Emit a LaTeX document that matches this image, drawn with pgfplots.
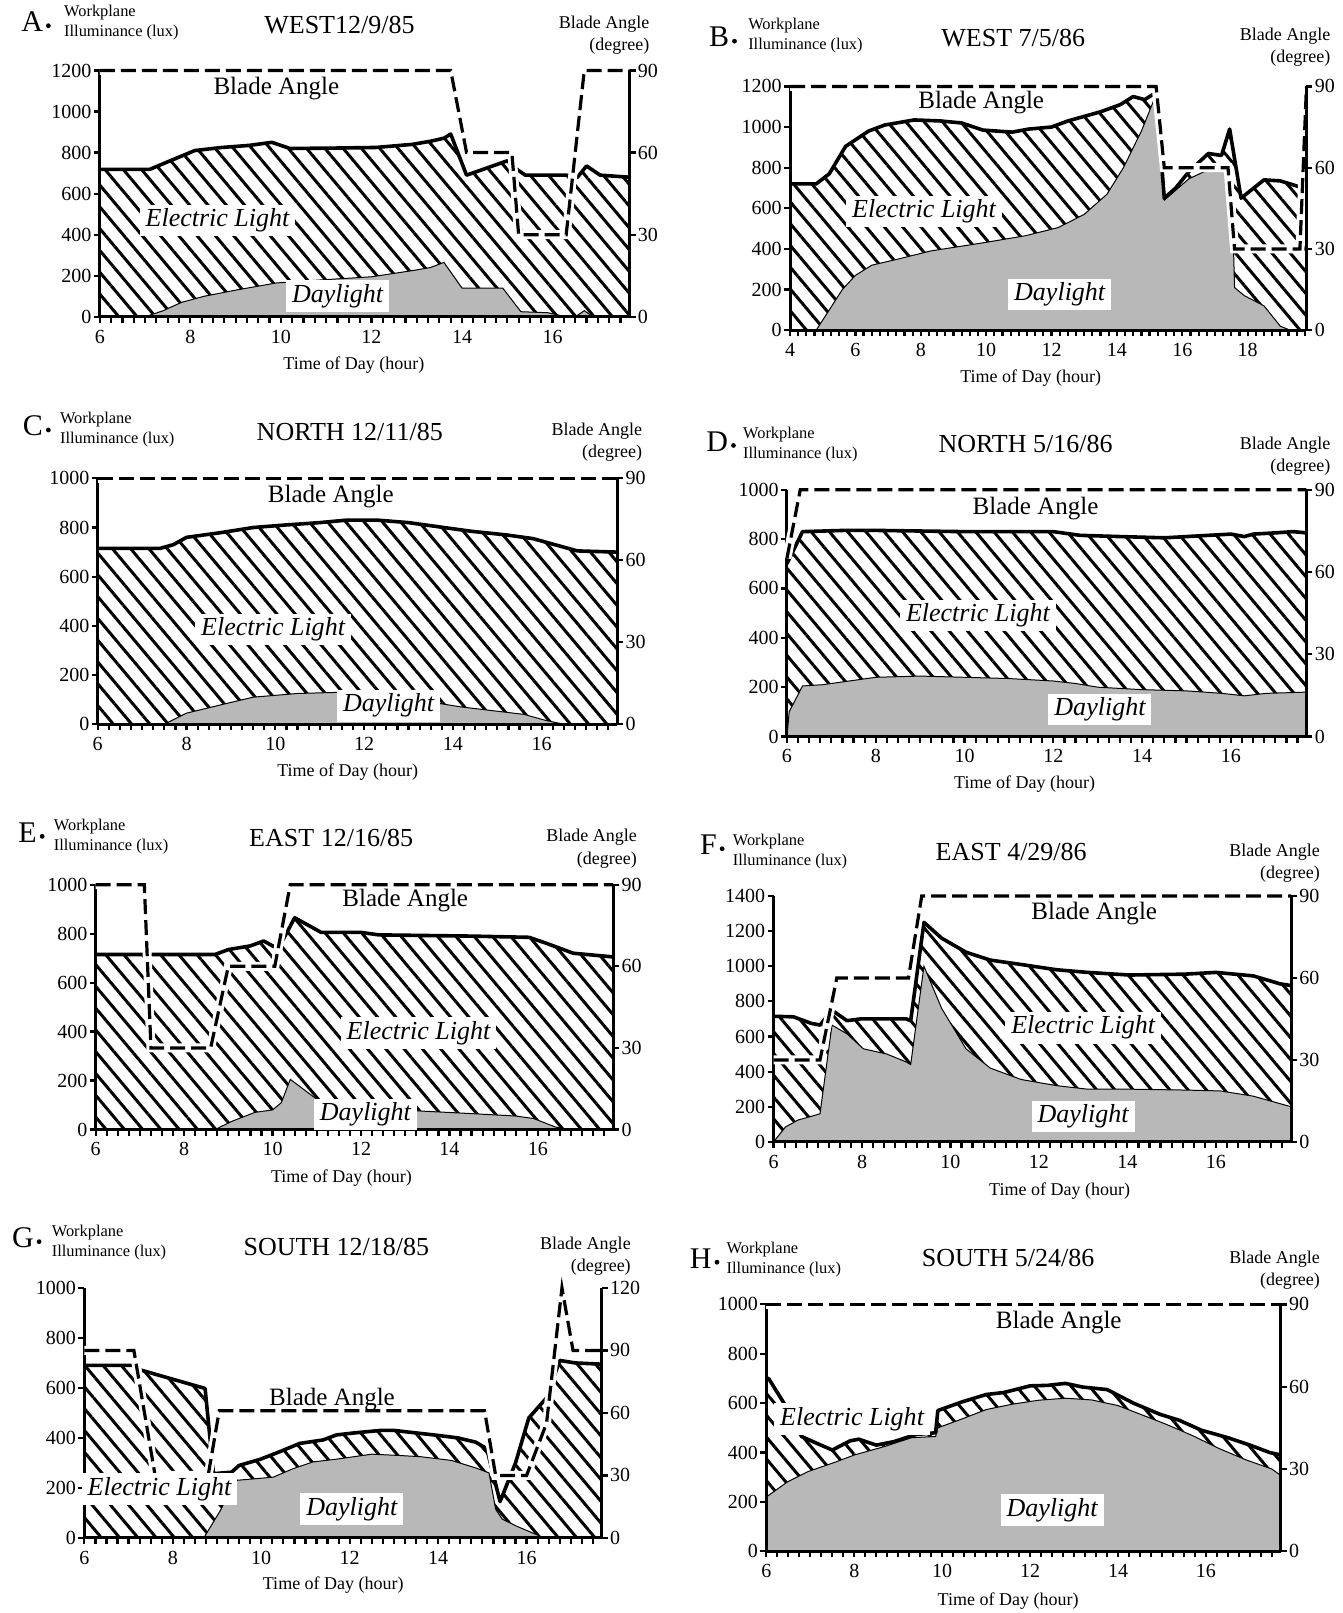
\documentclass[border=0pt]{standalone}
\usepackage{fontspec}
\setmainfont{Liberation Serif}
\usepackage{pgfplots}
\usepackage{pgfplotstable}
\pgfplotsset{compat=1.18}
\usetikzlibrary{patterns.meta}

% ---------------- data: A WEST 12/9/85 ----------------
\pgfplotstableread{
x y
6 718
7.1 718
7.5 755
8.1 810
8.7 825
9.3 835
9.8 850
10.2 820
11.2 822
12.1 825
12.9 840
13.3 855
13.6 870
13.75 890
14.1 690
15.0 760
15.2 720
15.4 690
16.3 690
16.55 680
16.75 735
17.05 690
17.7 680
}\Atot
\pgfplotstableread{
x y
6 0
7.0 0
7.4 30
7.8 70
8.3 100
9.0 130
9.9 165
10.9 180
12.0 195
12.9 225
13.3 240
13.6 265
14.0 140
14.9 140
15.3 25
15.9 20
16.3 0
16.5 0
16.7 30
16.9 0
17.7 0
}\Aday
\pgfplotstableread{
x y
6 90
13.75 90
14.1 60
15.1 60
15.25 30
16.3 30
16.7 90
17.7 90
}\Ablade
% ---------------- B WEST 7/5/86 ----------------
\pgfplotstableread{
x y
4 720
4.8 720
5.2 770
5.7 905
6.4 980
6.9 1010
7.8 1035
8.6 1030
9.25 1020
9.9 985
10.8 975
11.3 990
12 1000
12.5 1030
13.5 1075
14.1 1110
14.5 1150
14.85 1135
15.2 1170
15.45 650
15.8 700
16.2 780
16.8 870
17.2 860
17.45 990
17.8 650
18.5 740
19.0 735
19.6 705
19.8 700
}\Btot
\pgfplotstableread{
x y
4 0
4.8 0
5.2 100
5.6 200
6.0 270
6.5 320
7.3 350
8.3 390
9.9 430
11.2 465
12.2 505
13 570
13.7 670
14.2 800
14.75 980
15.2 1160
15.45 640
16.2 745
16.8 790
17.3 815
17.5 815
17.6 210
17.9 170
18.5 120
19.0 20
19.3 0
19.8 0
}\Bday
\pgfplotstableread{
x y
4 90
15.2 90
15.45 60
17.4 60
17.6 30
19.6 30
19.8 90
}\Bblade
% ---------------- C NORTH 12/11/85 ----------------
\pgfplotstableread{
x y
6 715
7.4 715
7.7 730
8.0 760
8.8 780
9.5 800
10.2 810
11 820
11.6 830
12.3 830
13 820
13.8 800
14.4 785
15.2 770
15.8 755
16.4 725
16.8 705
17.7 700
}\Ctot
\pgfplotstableread{
x y
6 0
7.5 0
8.0 45
8.8 80
9.5 110
10.5 125
11.5 130
12.5 120
13.5 90
14.2 70
14.9 55
15.6 40
16.1 15
16.5 0
17.7 0
}\Cday
\pgfplotstableread{
x y
6 90
17.7 90
}\Cblade
% ---------------- D NORTH 5/16/86 ----------------
\pgfplotstableread{
x y
6 700
6.35 830
7.3 835
8 835
10 830
12 830
12.6 815
13.5 810
14.5 805
15 810
16 820
16.3 810
16.5 820
17 825
17.4 830
17.7 825
}\Dtot
\pgfplotstableread{
x y
6 0
6.05 100
6.35 205
6.8 210
7.4 225
8 240
9 245
10 240
11 235
12 225
12.5 215
13 200
14 190
15 185
15.8 175
16.3 165
16.8 175
17.7 180
}\Dday
\pgfplotstableread{
x y
6 65
6.3 90
17.7 90
}\Dblade
% ---------------- E EAST 12/16/85 ----------------
\pgfplotstableread{
x y
6 715
8.7 715
9.0 735
9.5 750
9.8 770
10.1 740
10.25 780
10.5 865
11.1 805
12 805
12.4 795
14.5 790
15.8 785
16.2 760
16.8 720
17.7 705
}\Etot
\pgfplotstableread{
x y
6 0
8.7 0
9.1 35
9.6 70
10.0 80
10.2 110
10.4 205
11.1 110
11.5 100
12.5 85
13.4 75
14.5 65
15.5 55
15.9 45
16.4 10
16.7 0
17.7 0
}\Eday
\pgfplotstableread{
x y
6 90
7.1 90
7.25 30
8.6 30
9.0 60
10.05 60
10.4 90
17.7 90
}\Eblade
% ---------------- F EAST 4/29/86 ----------------
\pgfplotstableread{
x y
6 715
6.45 712
6.85 675
7.05 665
7.32 750
7.66 690
7.96 700
9.0 700
9.1 690
9.4 1250
9.8 1160
10.35 1080
10.9 1035
11.6 1010
12.4 980
13.1 965
14.05 950
15.3 955
16.0 965
16.85 945
17.45 900
17.7 890
}\Ftot
\pgfplotstableread{
x y
6 0
6.27 85
6.56 125
6.85 145
7.05 160
7.32 665
7.66 615
8.03 530
8.56 500
9.0 455
9.1 440
9.4 1000
9.8 760
10.35 530
10.9 420
11.6 355
12.4 320
13.1 300
14.05 300
15.3 295
16.1 290
16.85 260
17.7 200
}\Fday
\pgfplotstableread{
x y
6 30
7.05 30
7.43 60
9.05 60
9.35 90
17.7 90
}\Fblade
% ---------------- G SOUTH 12/18/85 ----------------
\pgfplotstableread{
x y
6 690
7.1 690
7.15 678
7.7 650
8.73 598
8.92 257
9.33 263
9.5 290
9.97 314
10.42 345
10.87 378
11.4 392
11.7 412
12.1 420
12.7 430
13.0 430
13.5 420
14.0 410
14.45 400
14.85 383
15.1 357
15.25 250
15.4 145
15.75 300
16.05 480
16.45 560
16.75 710
17.1 700
17.7 695
}\Gtot
\pgfplotstableread{
x y
6 0
8.7 0
9.07 108
9.42 230
10.27 243
10.72 277
11.17 304
11.7 315
12.5 335
13.1 330
13.6 325
14.3 310
14.85 280
15.15 260
15.3 115
15.45 75
15.8 45
16.2 15
16.4 0
17.7 0
}\Gday
\pgfplotstableread{
x y
6 90
7.12 90
7.6 30
8.8 30
9.05 61
15.05 61
15.3 30
16.0 30
16.45 55
16.8 120
17.05 90
17.7 90
}\Gblade
% ---------------- H SOUTH 5/24/86 ----------------
\pgfplotstableread{
x y
6 700
6.05 700
6.4 600
6.8 465
7.15 437
7.5 410
7.9 447
8.1 454
8.5 430
8.9 444
9.4 473
9.85 480
9.9 570
10.45 605
11.0 635
11.4 643
12.0 670
12.4 672
12.8 680
13.2 665
13.75 655
14.35 600
14.95 555
15.4 530
15.9 490
16.5 460
17.0 430
17.45 400
17.7 390
}\Htot
\pgfplotstableread{
x y
6 220
6.47 280
6.95 323
7.55 360
8.0 390
8.7 425
9.3 460
9.85 465
9.9 500
10.45 536
11 574
11.6 596
12.2 612
12.8 620
13.4 613
14.0 590
14.55 552
15.1 514
15.7 468
16.3 416
16.9 371
17.5 333
17.7 307
}\Hday
\pgfplotstableread{
x y
6 90
17.7 90
}\Hblade

\tikzset{
  hatch/.style={draw=none, pattern={Lines[angle=-50,distance=7pt,line width=1.5pt]}},
  day/.style={draw=black, line width=0.5pt, fill=black!28},
  tot/.style={black, line width=1.8pt, line join=round},
  halo/.style={white, line width=4.5pt},
  dsh/.style={black, line width=1.6pt, dash pattern=on 7.5pt off 3pt},
  lab/.style={fill=white, font=\fontsize{13}{13}\selectfont\itshape, inner xsep=3pt, inner ysep=2pt},
  bla/.style={font=\fontsize{12.5}{12.5}\selectfont},
}
\pgfplotsset{
  base/.style={scale only axis, anchor=south west, clip=false, axis on top,
    /pgf/number format/assume math mode=true, /pgf/number format/1000 sep={},
    ymin=0, tick align=outside,
    major tick length=3pt, minor tick length=3pt,
    tick style={black, line width=1.1pt},
    axis line style={-, line width=1.5pt},
    tick label style={font=\fontsize{10}{10}\selectfont},
    yticklabel style={inner xsep=1pt}},
  lux/.style={base, axis x line*=bottom, axis y line*=left, xmin=6, xmax=17.7,
    xtick={6,8,...,16}, minor xtick={6,6.25,...,17.7}},
  deg/.style={base, axis x line=none, axis y line*=right, xmin=6, xmax=17.7,
    ymax=90, ytick={0,30,60,90}},
}
% #1 letter, #2 dot point after the letter, #3 workplane west point, #4 title, #5 title centre,
% #6 blade-angle header east point, #7 x label centre
\newcommand\header[7]{%
  \fill (#2) circle (1.2pt);
  \node[anchor=east, inner xsep=0pt, xshift=-2.5pt, yshift=2pt, font=\fontsize{15}{15}\selectfont] at (#2) {#1};
  \node[anchor=west, inner xsep=0pt, align=left, font=\fontsize{8.2}{10}\selectfont] at (#3) {Workplane\\Illuminance (lux)};
  \node[font=\fontsize{13}{13}\selectfont] at (#5) {#4};
  \node[anchor=east, align=right, font=\fontsize{9}{11}\selectfont] at (#6) {Blade Angle\\(degree)};
  \node[font=\fontsize{9}{9}\selectfont] at (#7) {Time of Day (hour)};
}

\begin{document}
\begin{tikzpicture}
\path[use as bounding box] (0,0) rectangle (671.03pt,-806.27pt);

% ===== A =====
\begin{axis}[lux, at={(49.88pt,-158.37pt)}, width=264.81pt, height=123.15pt,
  ymax=1200, ytick={0,200,...,1200}]
\addplot[hatch] table {\Atot} \closedcycle;
\addplot[day] table {\Aday} \closedcycle;
\addplot[tot] table {\Atot};
\end{axis}
\begin{axis}[deg, at={(49.88pt,-158.37pt)}, width=264.81pt, height=123.15pt]
\addplot[halo] table {\Ablade};
\addplot[dsh] table {\Ablade};
\node[bla] at (axis cs:9.9,{1110*0.075}) {Blade Angle};
\node[lab] at (axis cs:8.6,{470*0.075}) {Electric Light};
\node[lab] at (axis cs:11.25,{100*0.075}) {Daylight};
\end{axis}

% ===== B =====
\begin{axis}[lux, at={(394.91pt,-165.06pt)}, width=258.13pt, height=121.87pt,
  xmin=4, xmax=19.8, xtick={4,6,...,18}, minor xtick={4,4.25,...,19.8},
  ymax=1200, ytick={0,200,...,1200}]
\addplot[hatch] table {\Btot} \closedcycle;
\addplot[day] table {\Bday} \closedcycle;
\addplot[tot] table {\Btot};
\end{axis}
\begin{axis}[deg, at={(394.91pt,-165.06pt)}, width=258.13pt, height=121.87pt,
  xmin=4, xmax=19.8]
\addplot[halo] table {\Bblade};
\addplot[dsh] table {\Bblade};
\node[bla] at (axis cs:9.85,{1120*0.075}) {Blade Angle};
\node[lab] at (axis cs:8.1,{585*0.075}) {Electric Light};
\node[lab] at (axis cs:12.25,{175*0.075}) {Daylight};
\end{axis}

% ===== C =====
\begin{axis}[lux, at={(48.85pt,-362.0pt)}, width=259.67pt, height=122.89pt,
  ymax=1000, ytick={0,200,...,1000}]
\addplot[hatch] table {\Ctot} \closedcycle;
\addplot[day] table {\Cday} \closedcycle;
\addplot[tot] table {\Ctot};
\end{axis}
\begin{axis}[deg, at={(48.85pt,-362.0pt)}, width=259.67pt, height=122.89pt]
\addplot[halo] table {\Cblade};
\addplot[dsh] table {\Cblade};
\node[bla] at (axis cs:11.25,{925*0.09}) {Blade Angle};
\node[lab] at (axis cs:9.95,{385*0.09}) {Electric Light};
\node[lab] at (axis cs:12.55,{75*0.09}) {Daylight};
\end{axis}

% ===== D =====
\begin{axis}[lux, at={(393.36pt,-368.17pt)}, width=259.67pt, height=123.41pt,
  ymax=1000, ytick={0,200,...,1000}]
\addplot[hatch] table {\Dtot} \closedcycle;
\addplot[day] table {\Dday} \closedcycle;
\addplot[tot] table {\Dtot};
\end{axis}
\begin{axis}[deg, at={(393.36pt,-368.17pt)}, width=259.67pt, height=123.41pt]
\addplot[halo] table {\Dblade};
\addplot[dsh] table {\Dblade};
\node[bla] at (axis cs:11.6,{925*0.09}) {Blade Angle};
\node[lab] at (axis cs:10.3,{490*0.09}) {Electric Light};
\node[lab] at (axis cs:13.05,{110*0.09}) {Daylight};
\end{axis}

% ===== E =====
\begin{axis}[lux, at={(47.82pt,-564.59pt)}, width=258.64pt, height=122.38pt,
  ymax=1000, ytick={0,200,...,1000}]
\addplot[hatch] table {\Etot} \closedcycle;
\addplot[day] table {\Eday} \closedcycle;
\addplot[tot] table {\Etot};
\end{axis}
\begin{axis}[deg, at={(47.82pt,-564.59pt)}, width=258.64pt, height=122.38pt]
\addplot[halo] table {\Eblade};
\addplot[dsh] table {\Eblade};
\node[bla] at (axis cs:13,{935*0.09}) {Blade Angle};
\node[lab] at (axis cs:13.3,{395*0.09}) {Electric Light};
\node[lab] at (axis cs:12.1,{62*0.09}) {Daylight};
\end{axis}

% ===== F =====
\begin{axis}[lux, at={(386.68pt,-570.76pt)}, width=258.64pt, height=122.89pt,
  ymax=1400, ytick={0,200,...,1400}]
\addplot[hatch] table {\Ftot} \closedcycle;
\addplot[day] table {\Fday} \closedcycle;
\addplot[tot] table {\Ftot};
\end{axis}
\begin{axis}[deg, at={(386.68pt,-570.76pt)}, width=258.64pt, height=122.89pt]
\addplot[halo] table {\Fblade};
\addplot[dsh] table {\Fblade};
\node[bla] at (axis cs:13.25,{1300*90/1400}) {Blade Angle};
\node[lab] at (axis cs:13.0,{650*90/1400}) {Electric Light};
\node[lab] at (axis cs:13.0,{145*90/1400}) {Daylight};
\end{axis}

% ===== G =====
\begin{axis}[lux, at={(42.16pt,-768.73pt)}, width=258.64pt, height=124.95pt,
  ymax=1000, ytick={0,200,...,1000}]
\addplot[hatch] table {\Gtot} \closedcycle;
\addplot[day] table {\Gday} \closedcycle;
\addplot[tot] table {\Gtot};
\end{axis}
\begin{axis}[deg, at={(42.16pt,-768.73pt)}, width=258.64pt, height=124.95pt,
  ymax=120, ytick={0,30,60,90,120}]
\addplot[halo] table {\Gblade};
\addplot[dsh] table {\Gblade};
\node[bla] at (axis cs:11.6,{555*0.12}) {Blade Angle};
\node[lab] at (axis cs:7.7,{195*0.12}) {Electric Light};
\node[lab] at (axis cs:12.05,{115*0.12}) {Daylight};
\end{axis}

% ===== H =====
\begin{axis}[lux, at={(383.08pt,-775.41pt)}, width=257.1pt, height=123.41pt,
  ymax=1000, ytick={0,200,...,1000}]
\addplot[hatch] table {\Htot} \closedcycle;
\addplot[day] table {\Hday} \closedcycle;
\addplot[tot] table {\Htot};
\end{axis}
\begin{axis}[deg, at={(383.08pt,-775.41pt)}, width=257.1pt, height=123.41pt]
\addplot[halo] table {\Hblade};
\addplot[dsh] table {\Hblade};
\node[bla] at (axis cs:12.65,{925*0.09}) {Blade Angle};
\node[lab] at (axis cs:7.95,{535*0.09}) {Electric Light};
\node[lab] at (axis cs:12.5,{168*0.09}) {Daylight};
\end{axis}

% ===== headers =====
\begin{scope}[x=0.5142pt, y=-0.5142pt]
\header{A}{47,25}{62,22}{WEST12/9/85}{330,24}{638,34}{344,355}
\header{B}{714,40}{727,35}{WEST 7/5/86}{985,37}{1300,46}{1002,368}
\header{C}{47,418}{58,418}{NORTH 12/11/85}{340,420}{631,430}{338,751}
\header{D}{713,433}{722,432}{NORTH 5/16/86}{997,432}{1300,443}{996,762}
\header{E}{41,813}{52,813}{EAST 12/16/85}{322,815}{626,825}{332,1145}
\header{F}{702,825}{712,828}{EAST 4/29/86}{983,828}{1290,839}{1030,1158}
\header{G}{38,1207}{50,1208}{SOUTH 12/18/85}{327,1212}{620,1221}{324,1541}
\header{H}{697,1227}{706,1224}{SOUTH 5/24/86}{980,1223}{1290,1235}{980,1556}
\end{scope}
\end{tikzpicture}
\end{document}
